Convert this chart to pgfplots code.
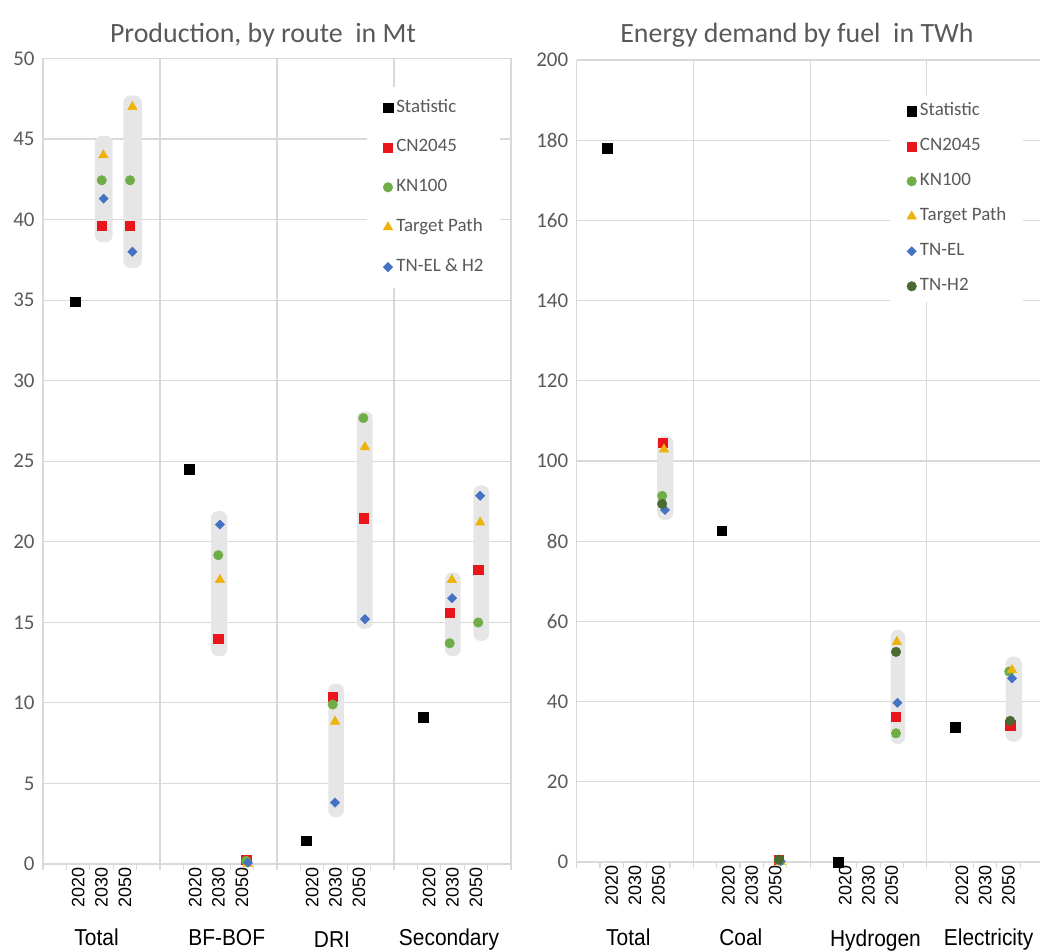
\documentclass[border=0pt]{standalone}
\usepackage{fontspec}
\setmainfont{Carlito}
\newfontfamily\arialf{Liberation Sans}
\usepackage{graphicx}
\usepackage{pgfplots}
\pgfplotsset{compat=1.18}
\definecolor{gridc}{HTML}{D9D9D9}
\definecolor{txtc}{HTML}{595959}
\definecolor{bandc}{HTML}{E6E6E6}
\definecolor{cnred}{HTML}{EB161C}
\definecolor{kngreen}{HTML}{70AD47}
\definecolor{tpgold}{HTML}{EDB30A}
\definecolor{tnblue}{HTML}{4472C4}
\definecolor{tndark}{HTML}{4A6A30}
\pgfplotsset{
 myaxis/.style={
  scale only axis, clip=false,
  axis x line*=bottom, axis y line*=left,
  axis line style={draw=gridc, line width=1.2bp},
  ymajorgrids, grid style={draw=gridc, line width=1.2bp},
  xmin=0, ymin=0,
  xtick={1.5,2.5,3.5,6.5,7.5,8.5,11.5,12.5,13.5,16.5,17.5,18.5},
  xticklabels={2020,2030,2050,2020,2030,2050,2020,2030,2050,2020,2030,2050},
  minor xtick={0,...,20},
  extra x ticks={0,5,10,15,20}, extra x tick labels={}, extra x tick style={grid=major},
  major tick length=0pt, minor tick length=6bp, tick align=outside,
  tick style={draw=gridc, line width=1.2bp},
  xticklabel style={rotate=90, anchor=east, font=\arialf\fontsize{18}{18}\selectfont, text=black},
  yticklabel style={font=\fontsize{21}{21}\selectfont, text=txtc, xshift=-5bp},
  /pgf/number format/assume math mode=true,
  legend cell align=left,
  legend style={draw=none, fill=white, anchor=north west,
    font=\fontsize{19}{19}\selectfont, text=txtc,
    nodes={inner sep=0pt, text height=12bp, text depth=4bp},
    /tikz/every odd column/.append style={column sep=3.5bp}},
  legend image code/.code={\draw[##1] plot coordinates {(5bp,0.5bp)};},
 },
 band/.style={fill=bandc, draw=none, rounded corners=7bp, forget plot, mark=none},
 stat/.style={only marks, mark=square*, mark size=4.8bp, mark options={fill=black, draw=black, line width=0.4bp}},
 cn/.style={only marks, mark=square*, mark size=4.6bp, mark options={fill=cnred, draw=cnred, line width=0.4bp}},
 kn/.style={only marks, mark=*, mark size=4.8bp, mark options={fill=kngreen, draw=kngreen, line width=0.4bp}},
 tp/.style={only marks, mark=triangle*, mark size=5.5bp, mark options={fill=tpgold, draw=tpgold, line width=0.4bp}},
 tn/.style={only marks, mark=square*, mark size=3.3bp, mark options={rotate=45, fill=tnblue, draw=tnblue, line width=0.4bp}},
 th/.style={only marks, mark=*, mark size=4.8bp, mark options={fill=tndark, draw=tndark, line width=0.4bp}},
}
\begin{document}
\begin{tikzpicture}[x=1bp,y=1bp]
\useasboundingbox (0,0) rectangle (1040,952);
\node[anchor=base, font=\fontsize{28}{28}\selectfont, text=txtc] at (263,909.3) {Production, by route\ \ in Mt};
\node[anchor=base, font=\fontsize{28}{28}\selectfont, text=txtc] at (797,909.3) {Energy demand by fuel\ \ in TWh};

\begin{axis}[myaxis, at={(43bp,88bp)}, anchor=south west, width=468bp, height=805.5bp,
  xmax=20, ymax=50, ytick={0,5,...,50},
  legend style={at={(0.6923,0.9646)}, inner xsep=16bp, inner ysep=12.8bp, row sep=23.9bp}]
\addplot[band] coordinates {(2.6,38.6) (2.98,38.6) (2.98,45.2) (2.22,45.2) (2.22,38.6) (2.6,38.6)};
\addplot[band] coordinates {(3.8,37.0) (4.22,37.0) (4.22,47.7) (3.43,47.7) (3.43,37.0) (3.8,37.0)};
\addplot[band] coordinates {(7.5,12.9) (7.88,12.9) (7.88,21.9) (7.18,21.9) (7.18,12.9) (7.5,12.9)};
\addplot[band] coordinates {(12.5,2.9) (12.86,2.9) (12.86,11.2) (12.19,11.2) (12.19,2.9) (12.5,2.9)};
\addplot[band] coordinates {(13.75,14.6) (14.09,14.6) (14.09,28.1) (13.41,28.1) (13.41,14.6) (13.75,14.6)};
\addplot[band] coordinates {(17.5,12.9) (17.85,12.9) (17.85,18.1) (17.18,18.1) (17.18,12.9) (17.5,12.9)};
\addplot[band] coordinates {(18.7,13.85) (19.07,13.85) (19.07,23.5) (18.39,23.5) (18.39,13.85) (18.7,13.85)};
\addplot[stat] coordinates {(1.37,34.9) (6.25,24.5) (11.24,1.45) (16.24,9.1)};
\addlegendentry{Statistic}
\addplot[cn] coordinates {(2.51,39.6) (3.72,39.6) (7.49,13.96) (8.68,0.25) (12.38,10.39) (13.69,21.47) (17.38,15.6) (18.60,18.26)};
\addlegendentry{CN2045}
\addplot[kn] coordinates {(2.51,42.44) (3.72,42.44) (7.49,19.17) (8.68,0.2) (12.38,9.9) (13.69,27.68) (17.38,13.7) (18.60,14.99)};
\addlegendentry{KN100}
\addplot[tp] coordinates {(2.58,44.0) (3.82,47.0) (7.56,17.64) (8.76,0.0) (12.48,8.84) (13.76,25.88) (17.47,17.64) (18.68,21.2)};
\addlegendentry{Target Path}
\addplot[tn] coordinates {(2.59,41.3) (3.82,38.0) (7.56,21.07) (8.76,0.08) (12.48,3.81) (13.76,15.2) (17.48,16.5) (18.68,22.86)};
\addlegendentry{TN-EL \& H2}
\node[anchor=base, font=\arialf\fontsize{21}{21}\selectfont] at (axis cs:2.29,-5.03) {\scalebox{1}[1.1]{Total}};
\node[anchor=base, font=\arialf\fontsize{21}{21}\selectfont] at (axis cs:7.85,-5.03) {\scalebox{1}[1.1]{BF-BOF}};
\node[anchor=base, font=\arialf\fontsize{21}{21}\selectfont] at (axis cs:12.35,-5.2) {\scalebox{1}[1.1]{DRI}};
\node[anchor=base, font=\arialf\fontsize{21}{21}\selectfont] at (axis cs:17.35,-5.03) {\scalebox{1}[1.1]{Secondary}};
\end{axis}

\begin{axis}[myaxis, at={(576.7bp,90bp)}, anchor=south west, width=463.3bp, height=802bp,
  xmax=19.85, ymax=200, ytick={0,20,...,200},
  legend style={at={(0.6762,0.9551)}, inner xsep=16.7bp, inner ysep=7.6bp, row sep=19bp}]
\addplot[band] coordinates {(3.8,85.3) (4.14,85.3) (4.14,106.3) (3.45,106.3) (3.45,85.3) (3.8,85.3)};
\addplot[band] coordinates {(13.75,29.4) (14.07,29.4) (14.07,57.9) (13.45,57.9) (13.45,29.4) (13.75,29.4)};
\addplot[band] coordinates {(18.7,30.0) (19.07,30.0) (19.07,51.2) (18.38,51.2) (18.38,30.0) (18.7,30.0)};
\addplot[stat] coordinates {(1.31,178.0) (6.21,82.6) (11.21,0) (16.21,33.6)};
\addlegendentry{Statistic}
\addplot[cn] coordinates {(3.67,104.6) (8.66,0.5) (13.68,36.2) (18.57,34.1)};
\addlegendentry{CN2045}
\addplot[kn] coordinates {(3.66,91.3) (8.66,0.4) (13.68,32.1) (18.53,47.5)};
\addlegendentry{KN100}
\addplot[tp] coordinates {(3.74,102.9) (8.74,0.0) (13.72,54.9) (18.65,47.9)};
\addlegendentry{Target Path}
\addplot[tn] coordinates {(3.78,87.8) (8.74,0.2) (13.74,39.7) (18.65,45.8)};
\addlegendentry{TN-EL}
\addplot[th] coordinates {(3.66,89.3) (8.66,0.6) (13.68,52.4) (18.57,35.2)};
\addlegendentry{TN-H2}
\node[anchor=base, font=\arialf\fontsize{21}{21}\selectfont] at (axis cs:2.21,-20.7) {\scalebox{1}[1.1]{Total}};
\node[anchor=base, font=\arialf\fontsize{21}{21}\selectfont] at (axis cs:7.03,-20.7) {\scalebox{1}[1.1]{Coal}};
\node[anchor=base, font=\arialf\fontsize{21}{21}\selectfont] at (axis cs:12.8,-21.1) {\scalebox{1}[1.1]{Hydrogen}};
\node[anchor=base, font=\arialf\fontsize{21}{21}\selectfont] at (axis cs:17.65,-20.9) {\scalebox{1}[1.1]{Electricity}};
\end{axis}
\end{tikzpicture}
\end{document}
